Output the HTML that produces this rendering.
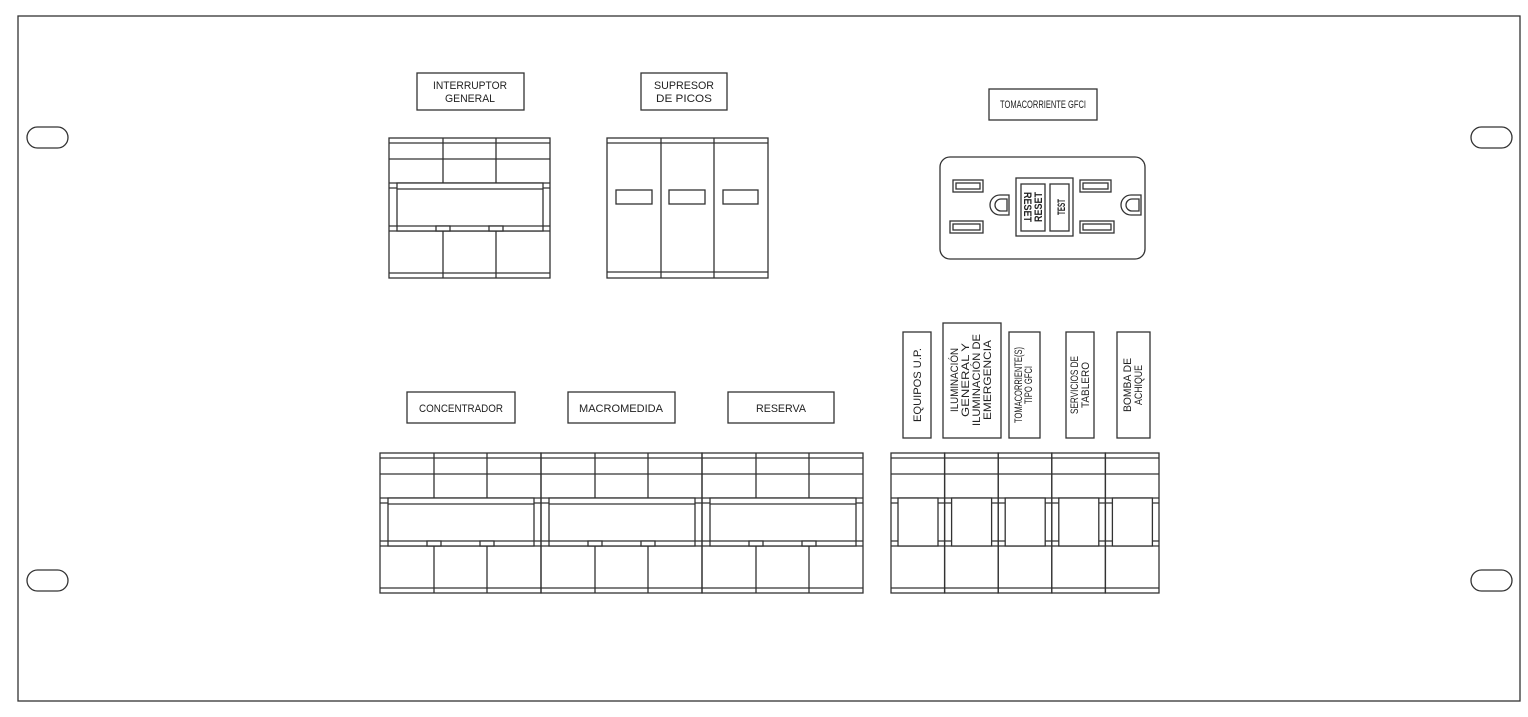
<!DOCTYPE html>
<html><head><meta charset="utf-8"><style>
html,body{margin:0;padding:0;background:#fff}
svg{display:block}
text{font-family:"Liberation Sans",sans-serif;font-size:11px;fill:#222}
</style></head><body>
<svg width="1528" height="717" viewBox="0 0 1528 717" xmlns="http://www.w3.org/2000/svg">
<defs>
<g id="b3" fill="none" stroke="#333" stroke-width="1.3">
<rect x="0" y="0" width="161" height="140"/>
<line x1="0" y1="5" x2="161" y2="5"/>
<line x1="0" y1="135" x2="161" y2="135"/>
<line x1="0" y1="21" x2="161" y2="21"/>
<line x1="54" y1="0" x2="54" y2="45"/><line x1="107" y1="0" x2="107" y2="45"/>
<line x1="54" y1="93" x2="54" y2="140"/><line x1="107" y1="93" x2="107" y2="140"/>
<line x1="0" y1="45" x2="161" y2="45"/><line x1="0" y1="50" x2="161" y2="50"/>
<line x1="0" y1="88" x2="161" y2="88"/><line x1="0" y1="93" x2="161" y2="93"/>
<rect x="8" y="45" width="146" height="48" fill="#fff"/>
<line x1="8" y1="51" x2="154" y2="51"/>
<line x1="8" y1="88" x2="154" y2="88"/>
<rect x="47" y="88" width="14" height="5" fill="#fff"/>
<rect x="100" y="88" width="14" height="5" fill="#fff"/>
</g>
<g id="b1" fill="none" stroke="#333" stroke-width="1.3">
<rect x="0" y="0" width="53.6" height="140"/>
<line x1="0" y1="5" x2="53.6" y2="5"/>
<line x1="0" y1="135" x2="53.6" y2="135"/>
<line x1="0" y1="21" x2="53.6" y2="21"/>
<line x1="0" y1="45" x2="53.6" y2="45"/><line x1="0" y1="50" x2="53.6" y2="50"/>
<line x1="0" y1="88" x2="53.6" y2="88"/><line x1="0" y1="93" x2="53.6" y2="93"/>
<rect x="7" y="45" width="40" height="48" fill="#fff"/>
</g>
</defs>
<g fill="none" stroke="#333" stroke-width="1.3">
<rect x="18" y="16" width="1502" height="685"/>
<rect x="27" y="127" width="41" height="21" rx="10.5"/>
<rect x="27" y="570" width="41" height="21" rx="10.5"/>
<rect x="1471" y="127" width="41" height="21" rx="10.5"/>
<rect x="1471" y="570" width="41" height="21" rx="10.5"/>
<rect x="417" y="73" width="107" height="37"/>
<rect x="641" y="73" width="86" height="37"/>
<rect x="989" y="89" width="108" height="31"/>
<rect x="407" y="392" width="108" height="31"/>
<rect x="568" y="392" width="107" height="31"/>
<rect x="728" y="392" width="106" height="31"/>
<rect x="903" y="332" width="28" height="106"/>
<rect x="943" y="323" width="58" height="115"/>
<rect x="1009" y="332" width="31" height="106"/>
<rect x="1066" y="332" width="28" height="106"/>
<rect x="1117" y="332" width="33" height="106"/>
<rect x="607" y="138" width="161" height="140"/>
<line x1="607" y1="143" x2="768" y2="143"/>
<line x1="607" y1="272" x2="768" y2="272"/>
<line x1="661" y1="138" x2="661" y2="278"/>
<line x1="714" y1="138" x2="714" y2="278"/>
<rect x="616" y="190" width="36" height="14"/>
<rect x="669" y="190" width="36" height="14"/>
<rect x="723" y="190" width="35" height="14"/>
<rect x="940" y="157" width="205" height="102" rx="10"/>
<rect x="953" y="180" width="30" height="12"/><rect x="956" y="183" width="24" height="6"/>
<rect x="950" y="221" width="33" height="12"/><rect x="953" y="224" width="27" height="6"/>
<rect x="1080" y="180" width="31" height="12"/><rect x="1083" y="183" width="25" height="6"/>
<rect x="1080" y="221" width="34" height="12"/><rect x="1083" y="224" width="28" height="6"/>
<rect x="1016" y="178" width="57" height="58"/>
<rect x="1021" y="184" width="24" height="47"/>
<rect x="1050" y="184" width="19" height="47"/>
<path d="M1009 195 H1000 A10 10 0 0 0 1000 215 H1009 Z"/>
<path d="M1007 199 H1001 A6 6 0 0 0 1001 211 H1007 Z"/>
<path d="M1141 195 H1131 A10 10 0 0 0 1131 215 H1141 Z"/>
<path d="M1139 199 H1132 A6 6 0 0 0 1132 211 H1139 Z"/>
</g>
<use href="#b3" x="389" y="138"/>
<use href="#b3" x="380" y="453"/>
<use href="#b3" x="541" y="453"/>
<use href="#b3" x="702" y="453"/>
<use href="#b1" x="891" y="453"/>
<use href="#b1" x="944.6" y="453"/>
<use href="#b1" x="998.2" y="453"/>
<use href="#b1" x="1051.8" y="453"/>
<use href="#b1" x="1105.4" y="453"/>
<g text-anchor="middle">
<text x="470" y="89" textLength="74" lengthAdjust="spacingAndGlyphs">INTERRUPTOR</text>
<text x="470" y="102" textLength="50" lengthAdjust="spacingAndGlyphs">GENERAL</text>
<text x="684" y="89" textLength="60" lengthAdjust="spacingAndGlyphs">SUPRESOR</text>
<text x="684" y="102" textLength="56" lengthAdjust="spacingAndGlyphs">DE  PICOS</text>
<text x="1043" y="108" font-size="9" textLength="86" lengthAdjust="spacingAndGlyphs">TOMACORRIENTE GFCI</text>
<text x="461" y="412" textLength="84" lengthAdjust="spacingAndGlyphs">CONCENTRADOR</text>
<text x="621" y="412" textLength="84" lengthAdjust="spacingAndGlyphs">MACROMEDIDA</text>
<text x="781" y="412" textLength="50" lengthAdjust="spacingAndGlyphs">RESERVA</text>
<text transform="translate(921,385) rotate(-90)" textLength="74" lengthAdjust="spacingAndGlyphs">EQUIPOS  U.P.</text>
<text transform="translate(958,380) rotate(-90)" textLength="64" lengthAdjust="spacingAndGlyphs">ILUMINACIÓN</text>
<text transform="translate(969,380) rotate(-90)" textLength="74" lengthAdjust="spacingAndGlyphs">GENERAL  Y</text>
<text transform="translate(980,380) rotate(-90)" textLength="92" lengthAdjust="spacingAndGlyphs">ILUMINACIÓN  DE</text>
<text transform="translate(991,380) rotate(-90)" textLength="80" lengthAdjust="spacingAndGlyphs">EMERGENCIA</text>
<text transform="translate(1022,385) rotate(-90)" font-size="9" textLength="76" lengthAdjust="spacingAndGlyphs">TOMACORRIENTE(S)</text>
<text transform="translate(1032,385) rotate(-90)" font-size="9" textLength="38" lengthAdjust="spacingAndGlyphs">TIPO GFCI</text>
<text transform="translate(1078,385) rotate(-90)" textLength="58" lengthAdjust="spacingAndGlyphs">SERVICIOS  DE</text>
<text transform="translate(1089,385) rotate(-90)" textLength="46" lengthAdjust="spacingAndGlyphs">TABLERO</text>
<text transform="translate(1131,385) rotate(-90)" textLength="54" lengthAdjust="spacingAndGlyphs">BOMBA  DE</text>
<text transform="translate(1142,385) rotate(-90)" textLength="40" lengthAdjust="spacingAndGlyphs">ACHIQUE</text>
<text transform="translate(1024,207) rotate(90)" font-size="9" font-weight="bold" textLength="30" lengthAdjust="spacingAndGlyphs">RESET</text>
<text transform="translate(1042,207) rotate(-90)" font-size="9" font-weight="bold" textLength="30" lengthAdjust="spacingAndGlyphs">RESET</text>
<text transform="translate(1065,207) rotate(-90)" font-size="9" font-weight="bold" textLength="16" lengthAdjust="spacingAndGlyphs">TEST</text>
</g>
</svg>
</body></html>
